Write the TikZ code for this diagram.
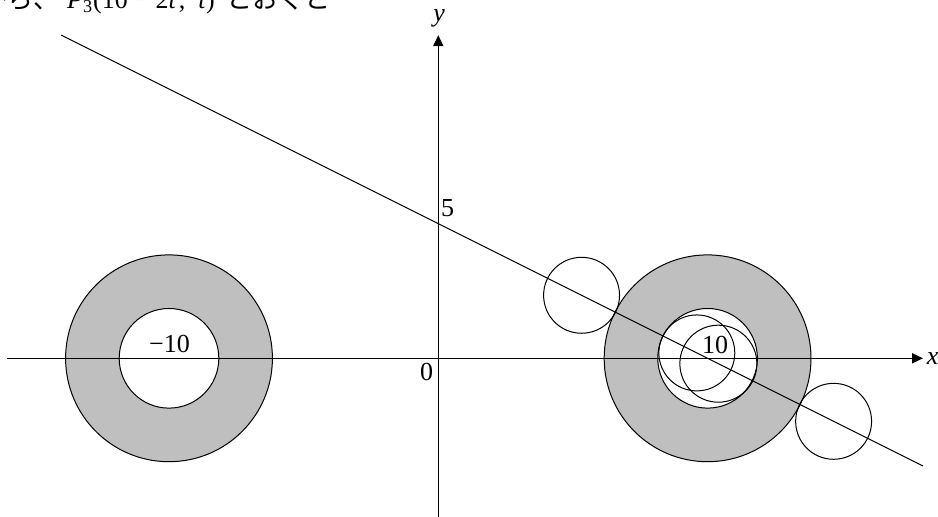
\documentclass[tikz,border=0pt]{standalone}
\usepackage{fontspec}
\setmainfont{Liberation Serif}
\newfontfamily\jpfont{Noto Sans CJK JP}
\usetikzlibrary{arrows.meta}

\tikzset{
  axis/.style={line width=0.8pt, -{Triangle[length=5.5pt,width=5pt]}},
  ring/.style={fill=black!25, even odd rule},
  thin line/.style={line width=0.5pt}
}

\begin{document}
\begin{tikzpicture}[x=13.465pt, y=13.465pt, font=\fontsize{13}{15}\selectfont]
  \useasboundingbox (-16.276,-5.893) rectangle (18.556,13.305);
  \clip (-16.276,-5.893) rectangle (18.556,13.305);

  \coordinate (O) at (0,0);
  \coordinate (L) at (-10,0);
  \coordinate (R) at (10,0);
  \coordinate (A) at (5.32,2.34);
  \coordinate (B) at (14.68,-2.34);
  \coordinate (C) at (9.6,0.2);
  \coordinate (D) at (10.4,-0.2);

  % Rings
  \fill[ring] (L) circle (3.84) (L) circle (1.85);
  \fill[ring] (R) circle (3.84) (R) circle (1.85);
  \draw[thin line] (L) circle (3.84) (L) circle (1.85);
  \draw[thin line] (R) circle (3.84) (R) circle (1.85);

  % Axes
  \coordinate (xs) at (-16,0);
  \coordinate (xe) at (18,0);
  \coordinate (ys) at (0,-6);
  \coordinate (ye) at (0,12);
  \draw[axis] (xs) -- (xe) node[right, inner sep=1.5pt] (xl) {\textit{x}};
  \draw[axis] (ys) -- (ye);
  \node[anchor=base] (yl) at (0.03,12.52) {\textit{y}};

  % Line
  \coordinate (P) at (-14,12);
  \coordinate (Q) at (18,-4);
  \draw[thin line] (P) -- (Q);

  % Small circles
  \draw[thin line] (A) circle (1.41);
  \draw[thin line] (B) circle (1.41);
  \draw[thin line] (C) circle (1.41);
  \draw[thin line] (D) circle (1.43);

  % Labels
  \node[anchor=base, inner sep=0] (m10) at (-9.98,0.23) {−10};
  \node[anchor=base, inner sep=0] (p10) at (10.28,0.19) {10};
  \node[anchor=base, inner sep=0] (zero) at (-0.43,-0.81) {0};
  \node[anchor=base, inner sep=0] (five) at (0.35,5.28) {5};

  \node[anchor=base west, inner sep=0] (head) at (-16.98,13.0)
    {{\jpfont から、}\hspace{0.3em}\textit{P}\textsubscript{3}(10\hspace{0.25em}−\hspace{0.25em}2\textit{t}\hspace{0.1em},\hspace{0.5em}\textit{t})\hspace{0.45em}{\jpfont とおくと}};
\end{tikzpicture}
\end{document}
